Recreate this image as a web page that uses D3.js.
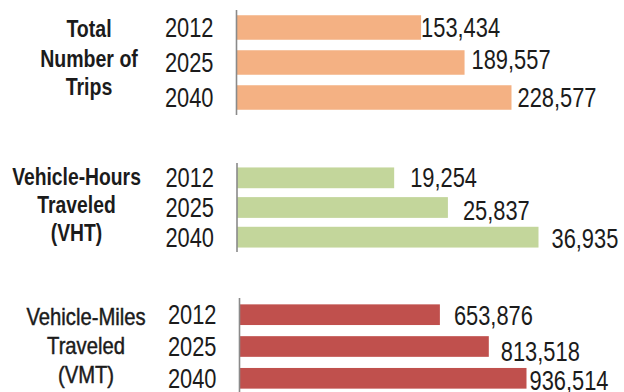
<!DOCTYPE html>
<html>
<head>
<meta charset="utf-8">
<script src="https://cdn.jsdelivr.net/npm/d3@7"></script>
<style>
  html, body { margin: 0; padding: 0; background: #fff; }
  svg { display: block; }
  text { font-family: "Liberation Sans", Arial, sans-serif; fill: #1b1b1b; }
</style>
</head>
<body>
<svg id="chart" width="624" height="392"></svg>
<script>
// Model years shown for each measure
const years = ["2012", "2025", "2040"];

// Measure titles (one line per entry)
const tripsTitle = ["Total", "Number of", "Trips"];
const vhtTitle = ["Vehicle-Hours", "Traveled", "(VHT)"];
const vmtTitle = ["Vehicle-Miles", "Traveled", "(VMT)"];

// Values per year
const tripsValues = [153434, 189557, 228577];
const vhtValues = [19254, 25837, 36935];
const vmtValues = [653876, 813518, 936514];

const svg = d3.select("#chart");
const fmt = d3.format(",");

// Condensed type: horizontal squeeze applied around each text's anchor point
const NARROW = 0.81;
function place(sel, x, y, sx) {
  sel.attr("x", 0).attr("y", 0)
    .attr("transform", (d, i) => {
      const xx = typeof x === "function" ? x(d, i) : x;
      const yy = typeof y === "function" ? y(d, i) : y;
      return `translate(${xx},${yy}) scale(${sx},1)`;
    });
}

// Panel layout: vertical extent, axis x, pixels per unit, styling
const panels = [
  { title: tripsTitle, values: tripsValues, color: "#F4B183", weight: "bold",
    top: 10, bottom: 115, x0: 236.5, maxVal: 228577, maxPx: 275,
    pad: 0.3, outer: 0.15, titleX: 89, titleY: [36.5, 66.5, 95], titleSx: 0.85,
    labelDx: [0, 7, 6], labelDy: [9.5, 6.5, 9.5] },
  { title: vhtTitle, values: vhtValues, color: "#C3D69B", weight: "bold",
    top: 163, bottom: 252, x0: 237, maxVal: 36935, maxPx: 301.5,
    pad: 0.3, outer: 0.15, titleX: 76.5, titleY: [185, 213, 240.5], titleSx: 0.84,
    labelDx: [16, 15, 13], labelDy: [9.5, 12.5, 10.5] },
  { title: vmtTitle, values: vmtValues, color: "#C0504D", weight: "medium",
    top: 298, bottom: 395, x0: 239.5, maxVal: 936514, maxPx: 287,
    pad: 0.35, outer: 0.2, titleX: 86, titleY: [325, 353.5, 382.5], titleSx: 0.88,
    labelDx: [14, 12, 3], labelDy: [10.5, 14, 11.5] }
];

panels.forEach(p => {
  const g = svg.append("g");

  const y = d3.scaleBand()
    .domain(years)
    .range([p.top, p.bottom])
    .paddingInner(p.pad)
    .paddingOuter(p.outer);

  const x = d3.scaleLinear()
    .domain([0, p.maxVal])
    .range([p.x0, p.x0 + p.maxPx]);

  const rows = years.map((yr, i) => ({ year: yr, value: p.values[i], i }));

  // Bars
  g.selectAll("rect.bar")
    .data(rows)
    .join("rect")
    .attr("class", "bar")
    .attr("x", x(0))
    .attr("y", d => y(d.year))
    .attr("width", d => x(d.value) - x(0))
    .attr("height", y.bandwidth())
    .attr("fill", p.color);

  // Category axis line with year labels
  const axis = d3.axisLeft(y).tickSize(0).tickPadding(0);
  const ag = g.append("g").attr("transform", `translate(${x(0)},0)`).call(axis);
  ag.attr("font-family", null).attr("font-size", null);
  ag.select(".domain").attr("stroke", "#8a8a8a").attr("stroke-width", 1.6)
    .attr("d", `M0,${p.top}V${p.bottom}`);
  ag.selectAll(".tick text")
    .attr("dy", null)
    .attr("text-anchor", "end")
    .style("font-size", "27px")
    .attr("fill", "#1b1b1b")
    .call(place, -23, 9.5, NARROW);

  // Value labels
  g.selectAll("text.val")
    .data(rows)
    .join("text")
    .attr("class", "val")
    .style("font-size", "27px")
    .text(d => fmt(d.value))
    .call(place,
      d => x(d.value) + p.labelDx[d.i],
      d => y(d.year) + y.bandwidth() / 2 + p.labelDy[d.i],
      NARROW);

  // Measure title
  const t = g.selectAll("text.title")
    .data(p.title)
    .join("text")
    .attr("class", "title")
    .attr("text-anchor", "middle")
    .style("font-size", "23px")
    .style("font-weight", p.weight === "bold" ? "bold" : "normal")
    .text(d => d)
    .call(place, p.titleX, (d, i) => p.titleY[i], p.titleSx);
  if (p.weight === "medium") {
    // a light outline gives the regular face a slightly heavier stroke
    t.attr("stroke", "#1b1b1b").attr("stroke-width", 0.45);
  }
});
</script>
</body>
</html>
